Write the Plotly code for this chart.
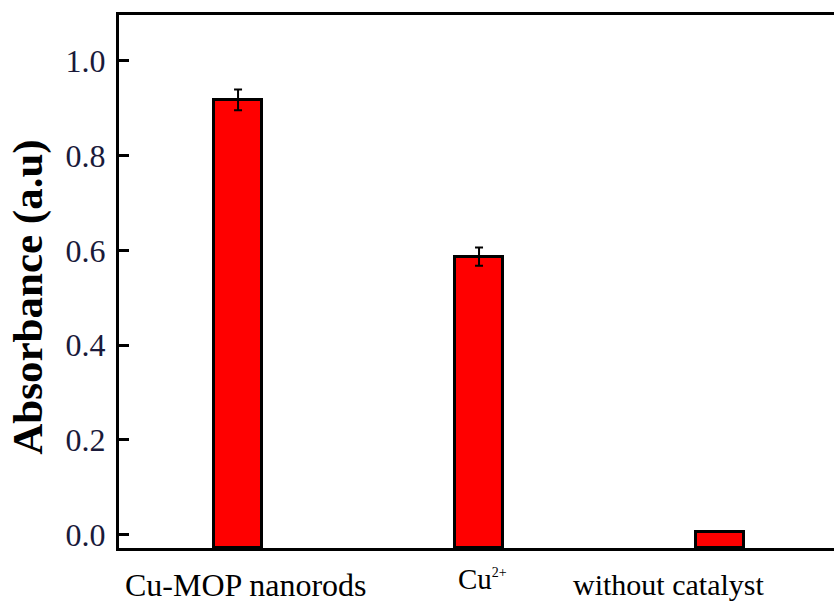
import plotly.graph_objects as go

# Absorbance measured for each catalyst condition
categories = ["Cu-MOP nanorods", "Cu<sup><span style='font-size:14px'>2+</span></sup>",
              "without catalyst"]
absorbance = [0.918, 0.587, 0.006]
abs_error = [0.022, 0.019, 0.0]

y_ticks = [0.0, 0.2, 0.4, 0.6, 0.8, 1.0]
y_tick_text = ["0.0", "0.2", "0.4", "0.6", "0.8", "1.0"]

Y_MIN, Y_MAX = -0.028, 1.097
positions = list(range(len(categories)))

FONT = "Liberation Serif, Times New Roman, serif"

fig = go.Figure()
fig.add_trace(go.Bar(
    x=positions,
    base=Y_MIN,
    y=[v - Y_MIN for v in absorbance],
    width=0.2,
    marker=dict(color="#ff0000", line=dict(color="black", width=3)),
    error_y=dict(type="data", array=abs_error, visible=True,
                 color="black", thickness=2, width=4),
    showlegend=False,
    hovertext=[f"{v:.3f}" for v in absorbance],
))

# Category labels beneath the axis
label_offsets = [0.03, 0.015, -0.215]
label_y = [-0.069, -0.058, -0.069]
label_size = [32, 29, 30]
for p, name, off, ly, sz in zip(positions, categories, label_offsets, label_y, label_size):
    fig.add_annotation(
        x=p + off, y=ly, xref="x", yref="paper",
        text=name, showarrow=False, yanchor="middle",
        font=dict(family=FONT, size=sz, color="black"),
    )

# Y-axis title
fig.add_annotation(
    x=-0.127, y=0.47, xref="paper", yref="paper",
    text="<b>Absorbance (a.u)</b>", textangle=-90, showarrow=False,
    xanchor="center", yanchor="middle",
    font=dict(family=FONT, size=43, color="black"),
)

fig.update_layout(
    width=834, height=604,
    margin=dict(l=119, r=0, t=15, b=56),
    plot_bgcolor="white", paper_bgcolor="white",
    font=dict(family=FONT, size=32, color="black"),
    bargap=0,
)
fig.update_xaxes(
    range=[-0.494, 2.473],
    showticklabels=False, ticks="", showgrid=False, zeroline=False,
    showline=True, linecolor="black", linewidth=3, mirror=True,
)
fig.update_yaxes(
    range=[Y_MIN, Y_MAX],
    tickvals=y_ticks, ticktext=y_tick_text,
    ticks="inside", ticklen=10, tickwidth=3, tickcolor="black",
    ticklabelstandoff=4,
    tickfont=dict(family=FONT, size=32, color="#1a1a3a"),
    showgrid=False, zeroline=False,
    showline=True, linecolor="black", linewidth=3, mirror=False,
)

fig.write_html("out.html")
